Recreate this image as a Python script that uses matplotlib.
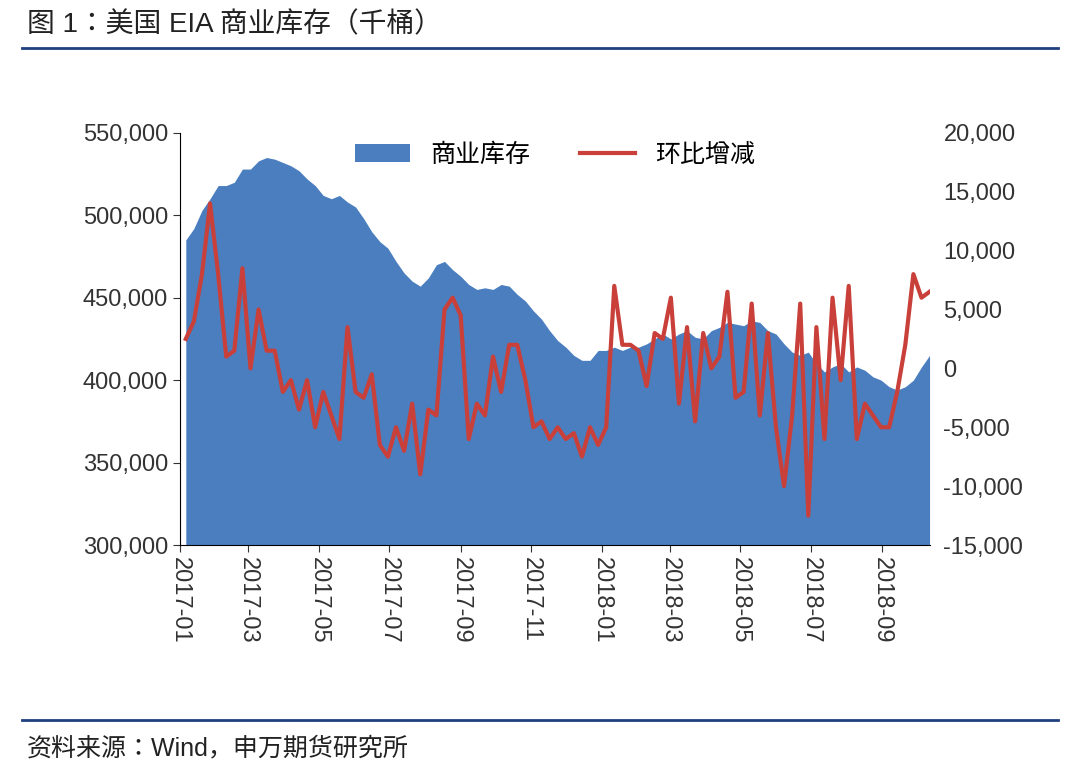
import matplotlib
matplotlib.use("Agg")
import matplotlib.pyplot as plt
import matplotlib.dates as mdates
from matplotlib import font_manager
import numpy as np
import pandas as pd

names = {f.name for f in font_manager.fontManager.ttflist}
cjk = [n for n in ["Noto Sans CJK SC", "Noto Sans CJK JP", "Noto Sans CJK TC", "Noto Sans CJK KR"] if n in names]
plt.rcParams["font.family"] = ["Liberation Sans"] + cjk + ["DejaVu Sans"]

# weekly values grouped by month (Fridays)
inventory_by_month = [
    [485,492,503,510], [518,518,520,528], [528,533,535,534,532], [530,527,522,518],
    [512,510,512,508], [505,498,490,484,480], [472,465,460,457], [462,470,472,467],
    [463,458,455,456,455], [458,457,452,448], [442,437,430,424], [420,415,412,412,418],
    [418,420,418,420], [420,422,425,428], [425,428,430,426,425], [430,432,435,434],
    [433,436,435,430], [428,422,417,415,417], [410,405,408,410], [405,408,406,402,400],
    [396,394,396,400], [408,415]]
change_by_month = [
    [2.5,4,8,14], [8,1,1.5,8.5], [0,5,1.5,1.5,-2], [-1,-3.5,-1,-5],
    [-2,-4,-6,3.5], [-2,-2.5,-0.5,-6.5,-7.5], [-5,-7,-3,-9], [-3.5,-4,5,6],
    [4.5,-6,-3,-4,1], [-2,2,2,-1], [-5,-4.5,-6,-5], [-6,-5.5,-7.5,-5,-6.5],
    [-5,7,2,2], [1.5,-1.5,3,2.5], [6,-3,3.5,-4.5,3], [0,1,6.5,-2.5],
    [-2,5.5,-4,3], [-5,-10,-4,5.5,-12.5], [3.5,-6,6,-1], [7,-6,-3,-4,-5],
    [-5,-2,2,8], [6,6.5]]
inventory = [v * 1000 for m in inventory_by_month for v in m]
change = [v * 1000 for m in change_by_month for v in m]
dates = pd.date_range("2017-01-06", "2018-10-12", freq="W-FRI")

fig = plt.figure(figsize=(10.8, 7.72), dpi=100)
fig.text(0.025, 0.968, "图 1：美国 EIA 商业库存（千桶）", fontsize=20, va="center", color="#222222")
fig.add_artist(plt.Line2D([0.02, 0.98], [0.938, 0.938], color="#1f3f7f", lw=2))
fig.add_artist(plt.Line2D([0.02, 0.98], [0.068, 0.068], color="#1f3f7f", lw=2))
fig.text(0.025, 0.03, "资料来源：Wind，申万期货研究所", fontsize=18, va="center", color="#222222")

ax = fig.add_axes([0.1667, 0.294, 0.694, 0.534])
ax.fill_between(dates, 300000, inventory, color="#4a7ebf", label="商业库存", lw=0)
ax.set_ylim(300000, 550000)
ax.set_yticks(np.arange(300000, 550001, 50000))
ax.yaxis.set_major_formatter(matplotlib.ticker.FuncFormatter(lambda v, p: f"{v:,.0f}"))
ax.set_xlim(pd.Timestamp("2017-01-01"), dates[-1])
ax.xaxis.set_major_locator(mdates.MonthLocator(bymonth=[1,3,5,7,9,11]))
ax.xaxis.set_major_formatter(mdates.DateFormatter("%Y-%m"))
for lab in ax.get_xticklabels():
    lab.set_rotation(270)
ax.tick_params(axis="both", labelsize=17, colors="#333333", length=5)
for s in ["top", "right"]:
    ax.spines[s].set_visible(False)

ax2 = ax.twinx()
ax2.plot(dates, change, color="#c9403b", lw=3, label="环比增减")
ax2.set_ylim(-15000, 20000)
ax2.set_yticks(np.arange(-15000, 20001, 5000))
ax2.yaxis.set_major_formatter(matplotlib.ticker.FuncFormatter(lambda v, p: f"{v:,.0f}"))
ax2.tick_params(axis="y", labelsize=17, colors="#333333", length=0, pad=10)
for s in ["top", "right", "left", "bottom"]:
    ax2.spines[s].set_visible(False)

h1, l1 = ax.get_legend_handles_labels()
h2, l2 = ax2.get_legend_handles_labels()
ax2.legend(h1 + h2, l1 + l2, loc="upper center", ncol=2, frameon=False,
           prop={"size": 18}, bbox_to_anchor=(0.5, 1.03),
           handlelength=2.2, columnspacing=2)
fig.savefig("out.png", dpi=100)
